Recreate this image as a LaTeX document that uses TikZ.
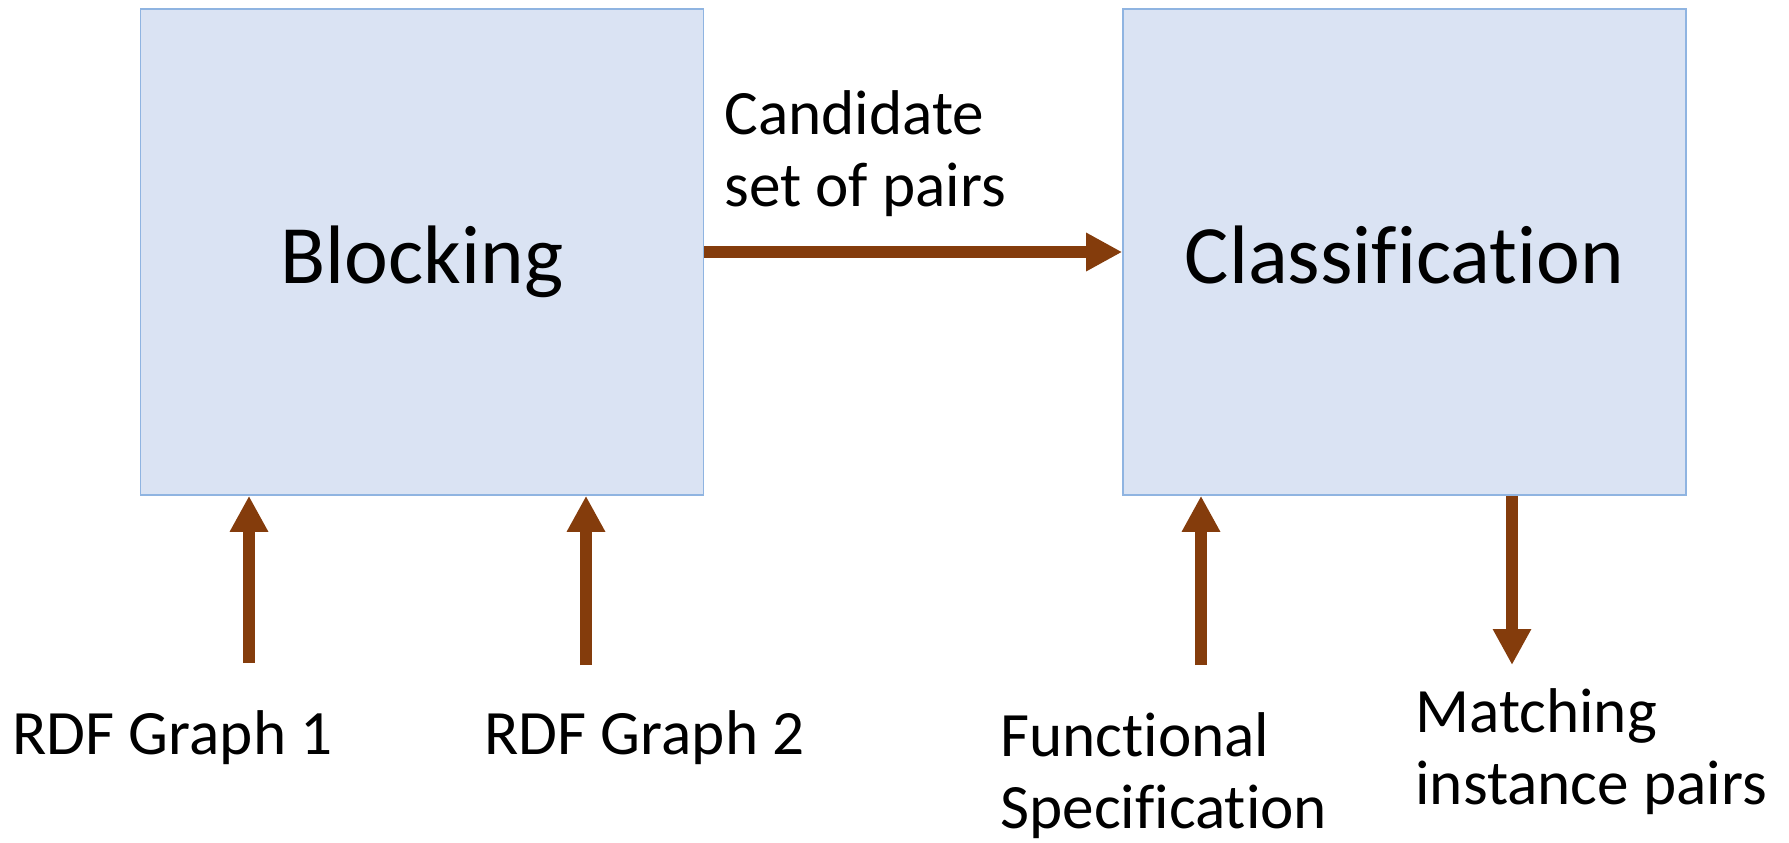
\documentclass[tikz,border=0pt]{standalone}
\usepackage{fontspec}
\setmainfont{Carlito}[RawFeature=-liga]
\usetikzlibrary{arrows.meta}

\definecolor{boxfill}{RGB}{218,227,243}
\definecolor{boxline}{RGB}{143,180,225}
\definecolor{flowbrown}{RGB}{132,60,12}

\tikzset{
  procbox/.style={draw=boxline, fill=boxfill, line width=0.8pt, rectangle,
    minimum width=281.5pt, minimum height=243pt, inner sep=0pt,
    text height=31pt, text depth=0pt,
    font=\fontsize{41.5}{50}\selectfont},
  flow/.style={draw=flowbrown, line width=6pt,
    -{Triangle[length=18pt,width=18pt]}},
  lbl/.style={anchor=base west, inner sep=0pt, align=left,
    font=\fontsize{31.6}{36}\selectfont}
}

\begin{document}
\begin{tikzpicture}[x=0.5pt,y=0.5pt,yscale=-1,xscale=1]
                \useasboundingbox (0,0) rectangle (1789,842);

                %Shape: Rectangle [id:block]
                \node[procbox] (block) at (422,252) {Blocking};
                %Shape: Rectangle [id:classif]
                \node[procbox] (classif) at (1404.5,252) {Classification};

                %Straight Lines [id:candidates]
                \draw[flow] (block.east) -- (classif.west);

                %Straight Lines [id:inputs]
                \coordinate (g1) at (249,663);
                \coordinate (g2) at (586,665);
                \coordinate (fs) at (1201,665);
                \coordinate (mp) at (1512,665);
                \draw[flow] (g1) -- (g1 |- block.south);
                \draw[flow] (g2) -- (g2 |- block.south);
                \draw[flow] (fs) -- (fs |- classif.south);
                %Straight Lines [id:output]
                \draw[flow] (mp |- classif.south) -- (mp);

                % Text Node (base = last line)
                \node[lbl] (cand) at (724,206) {Candidate\\set of pairs};
                \node[lbl] (rdf1) at (12,754) {RDF Graph 1};
                \node[lbl] (rdf2) at (484,754) {RDF Graph 2};
                \node[lbl] (func) at (1000,828) {Functional\\Specification};
                \node[lbl] (match) at (1415,804) {Matching\\instance pairs};

\end{tikzpicture}
\end{document}
